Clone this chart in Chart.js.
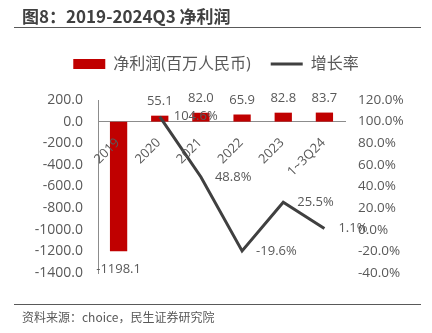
<!DOCTYPE html>
<html>
<head>
<meta charset="utf-8">
<script src="https://cdn.jsdelivr.net/npm/chart.js@4.4.0/dist/chart.umd.min.js"></script>
<style>
  html, body { margin: 0; padding: 0; background: #fff; }
  #wrap { position: relative; width: 432px; height: 333px; overflow: hidden; }
  #chart { position: absolute; left: 0; top: 0; }
  .head {
    position: absolute; left: 14px; top: 6px; width: 407px; height: 22px;
    box-sizing: border-box; padding-left: 8px;
    border-bottom: 1.5px solid #595959;
    font: bold 17px "Noto Sans CJK SC", sans-serif; line-height: 20px; color: #404040;
  }
  .foot {
    position: absolute; left: 14px; top: 304px; width: 407px; height: 28px;
    box-sizing: border-box; padding-left: 8px;
    border-top: 1.5px solid #595959;
    font: 12px "Noto Sans CJK SC", sans-serif; line-height: 24px; color: #595959;
  }
</style>
</head>
<body>
<div id="wrap">
  <canvas id="chart" width="432" height="333"></canvas>
  <div class="head">图8：2019-2024Q3 净利润</div>
  <div class="foot">资料来源：choice，民生证券研究院</div>
</div>
<script>
  // 年度 / 期间
  const categories = ['2019', '2020', '2021', '2022', '2023', '1~3Q24'];
  // 净利润（百万人民币）
  const netProfit = [-1198.1, 55.1, 82.0, 65.9, 82.8, 83.7];
  // 增长率（%），2019 无数据
  const growthRate = [null, 104.6, 48.8, -19.6, 25.5, 1.1];
  // 坐标轴刻度
  const profitTicks = [-1400, -1200, -1000, -800, -600, -400, -200, 0, 200];
  const rateTicks = [-40, -20, 0, 20, 40, 60, 80, 100, 120];

  const RED = '#C00000';
  const LINE = '#404040';
  const TXT = '#595959';
  const AXIS = '#8c8c8c';
  const FONT = '"Open Sans", "Noto Sans CJK SC", sans-serif';

  Chart.defaults.font.family = FONT;
  Chart.defaults.color = TXT;

  // 图例和绘图区之间多留一点空隙
  const legendGap = {
    id: 'legendGap',
    beforeInit(chart) {
      const fit = chart.legend.fit;
      chart.legend.fit = function () {
        fit.call(this);
        this.height += 18;
      };
    }
  };

  // 横轴类别名：贴着 0 线下方，斜 45 度
  const categoryLabels = {
    id: 'categoryLabels',
    afterDatasetsDraw(chart) {
      const { ctx, scales: { x, y } } = chart;
      const y0 = y.getPixelForValue(0);
      ctx.save();
      ctx.font = '13px ' + FONT;
      ctx.fillStyle = TXT;
      ctx.textAlign = 'right';
      ctx.textBaseline = 'middle';
      categories.forEach((name, i) => {
        ctx.save();
        ctx.translate(x.getPixelForValue(i) - 1, y0 + 19);
        ctx.rotate(-Math.PI / 4);
        ctx.fillText(name, 0, 0);
        ctx.restore();
      });
      ctx.restore();
    }
  };

  // 柱子数值 + 折线百分比标签
  const valueLabels = {
    id: 'valueLabels',
    afterDatasetsDraw(chart) {
      const ctx = chart.ctx;
      ctx.save();
      ctx.font = '13px ' + FONT;
      ctx.fillStyle = TXT;
      chart.getDatasetMeta(0).data.forEach((bar, i) => {
        const v = netProfit[i];
        ctx.textAlign = 'center';
        if (v >= 0) {
          ctx.textBaseline = 'bottom';
          ctx.fillText(v.toFixed(1), bar.x, bar.y - 8);
        } else {
          ctx.textBaseline = 'top';
          ctx.fillText(v.toFixed(1), bar.x, bar.y + 12);
        }
      });
      chart.getDatasetMeta(1).data.forEach((pt, i) => {
        const v = growthRate[i];
        if (v === null) return;
        ctx.textAlign = 'left';
        ctx.textBaseline = 'middle';
        ctx.fillText(v.toFixed(1) + '%', pt.x + 14, pt.y);
      });
      ctx.restore();
    }
  };

  new Chart(document.getElementById('chart'), {
    type: 'bar',
    data: {
      labels: categories,
      datasets: [
        {
          label: '净利润(百万人民币)',
          data: netProfit,
          backgroundColor: RED,
          borderWidth: 0,
          pointStyle: 'rect',
          categoryPercentage: 1,
          barPercentage: 0.42,
          yAxisID: 'y',
          order: 2
        },
        {
          type: 'line',
          label: '增长率',
          data: growthRate,
          borderColor: LINE,
          backgroundColor: LINE,
          borderWidth: 3,
          pointRadius: 0,
          pointStyle: 'line',
          tension: 0,
          spanGaps: false,
          yAxisID: 'y1',
          order: 1
        }
      ]
    },
    options: {
      responsive: false,
      animation: false,
      layout: { padding: { top: 36, bottom: 60, left: 0, right: 0 } },
      plugins: {
        tooltip: { enabled: false },
        legend: {
          position: 'top',
          labels: {
            usePointStyle: true,
            pointStyleWidth: 32,
            boxHeight: 10,
            padding: 20,
            color: TXT,
            font: { size: 16 },
            sort: (a, b) => a.datasetIndex - b.datasetIndex
          }
        }
      },
      scales: {
        x: {
          type: 'category',
          position: { y: 0 },
          offset: true,
          grid: { display: false, drawTicks: false },
          border: { display: true, color: AXIS, width: 1 },
          ticks: { display: false }
        },
        y: {
          position: 'left',
          min: profitTicks[0],
          max: profitTicks[profitTicks.length - 1],
          grid: { display: false, drawTicks: false },
          border: { display: true, color: AXIS, width: 1 },
          afterBuildTicks(scale) { scale.ticks = profitTicks.map(v => ({ value: v })); },
          afterFit(scale) { scale.width = 98; },
          ticks: {
            padding: 15,
            color: TXT,
            font: { size: 14 },
            callback: v => Number(v).toFixed(1)
          }
        },
        y1: {
          position: 'right',
          min: rateTicks[0],
          max: rateTicks[rateTicks.length - 1],
          grid: { display: false, drawTicks: false },
          border: { display: false },
          afterBuildTicks(scale) { scale.ticks = rateTicks.map(v => ({ value: v })); },
          afterFit(scale) { scale.width = 87; },
          ticks: {
            padding: 13,
            color: TXT,
            font: { size: 13.5 },
            callback: v => Number(v).toFixed(1) + '%'
          }
        }
      }
    },
    plugins: [legendGap, categoryLabels, valueLabels]
  });
</script>
</body>
</html>
